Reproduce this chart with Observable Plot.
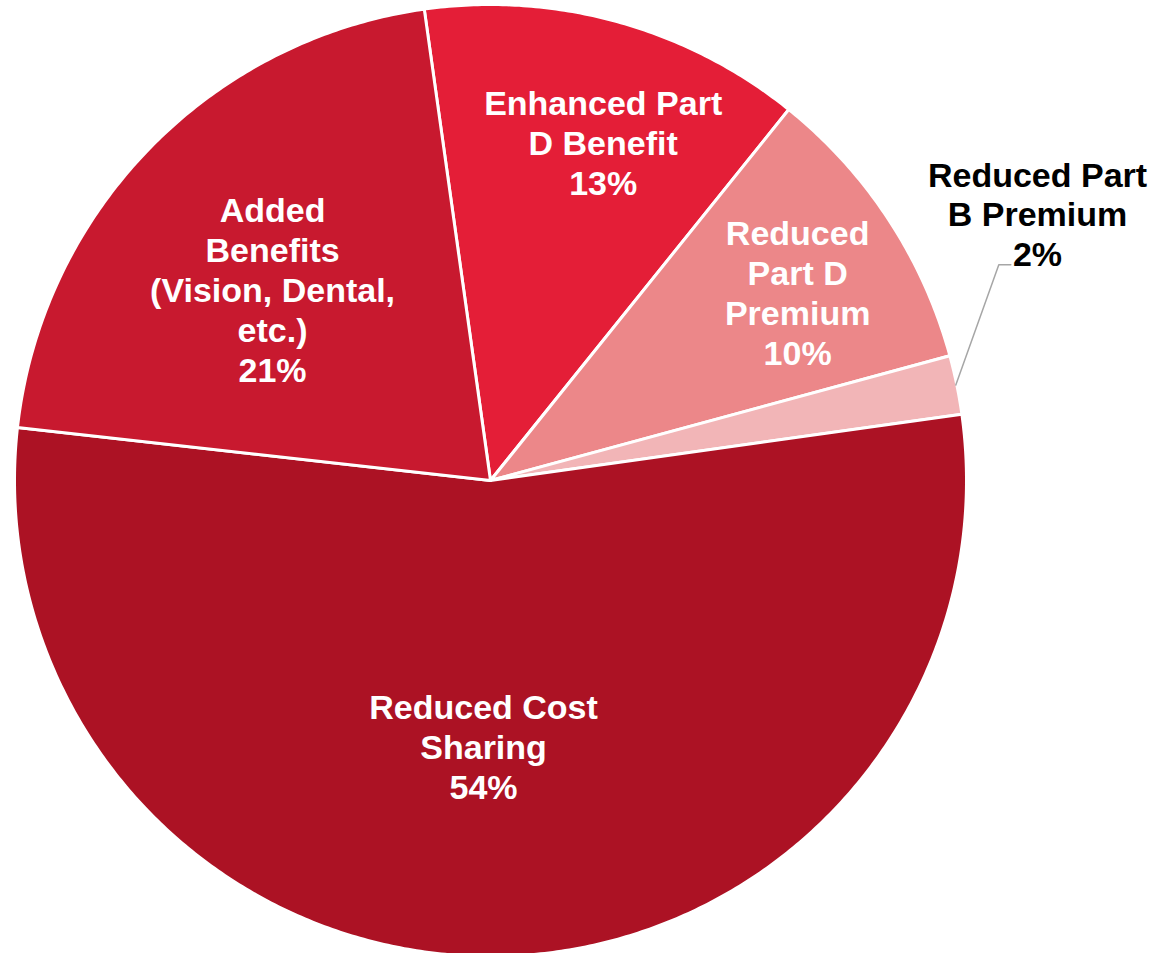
<!DOCTYPE html>
<html>
<head>
<meta charset="utf-8">
<script src="https://cdn.jsdelivr.net/npm/d3@7"></script>
<script src="https://cdn.jsdelivr.net/npm/@observablehq/plot@0.6"></script>
<style>
  html, body { margin: 0; padding: 0; background: #fff; }
  #chart svg { display: block; }
</style>
</head>
<body>
<div id="chart"></div>
<script>
// ---- data ----
const categories = [
  "Enhanced Part D Benefit",
  "Reduced Part D Premium",
  "Reduced Part B Premium",
  "Reduced Cost Sharing",
  "Added Benefits (Vision, Dental, etc.)"
];
const values = [13, 10, 2, 54, 21];
const labelTexts = [
  "Enhanced Part\nD Benefit",
  "Reduced\nPart D\nPremium",
  "Reduced Part\nB Premium",
  "Reduced Cost\nSharing",
  "Added\nBenefits\n(Vision, Dental,\netc.)"
];
const colors = ["#E41E37", "#EC8789", "#F2B5B7", "#AC1224", "#C8192F"];
const labelInside = [true, true, false, true, true];
// label placement (polar: degrees clockwise from top, fraction of radius)
const labelAngle = [18.4, 58.5, 64.0, 181.5, 311.3];
const labelRadius = [0.753, 0.760, 1.284, 0.560, 0.612];
const leaderBend = {angle: 67, radius: 1.165, tail: 12};

// ---- layout ----
const R = 476;
const startDeg = -8;
const rad = d => d * Math.PI / 180;
const polar = (a, r) => ({x: r * Math.sin(a), y: r * Math.cos(a)});

const arcs = d3.pie().sort(null)
  .startAngle(rad(startDeg))
  .endAngle(rad(startDeg) + 2 * Math.PI)(values);

const polys = [];
arcs.forEach((a, i) => {
  const cat = categories[i];
  polys.push({cat, x: 0, y: 0});
  const n = Math.max(2, Math.ceil((a.endAngle - a.startAngle) / rad(0.5)));
  for (let k = 0; k <= n; k++) {
    const t = a.startAngle + (a.endAngle - a.startAngle) * k / n;
    const p = polar(t, R);
    polys.push({cat, x: p.x, y: p.y});
  }
  polys.push({cat, x: 0, y: 0});
});

const labels = categories.map((c, i) => {
  const p = polar(rad(labelAngle[i]), labelRadius[i] * 474);
  return {cat: c, x: p.x, y: p.y, text: labelTexts[i] + "\n" + values[i] + "%", inside: labelInside[i]};
});

// leader line for the outside label
const leaderIdx = labelInside.indexOf(false);
const la = arcs[leaderIdx];
const p0 = polar((la.startAngle + la.endAngle) / 2, 475);
const p1 = polar(rad(leaderBend.angle), leaderBend.radius * 474);
const leader = [p0, p1, {x: p1.x + leaderBend.tail, y: p1.y}];

const font = "'Liberation Sans', Arial, Helvetica, sans-serif";

const chart = Plot.plot({
  width: 1155,
  height: 953,
  margin: 0,
  x: {domain: [-490, 665], axis: null},
  y: {domain: [-473, 480], axis: null},
  color: {domain: categories, range: colors},
  style: {background: "white"},
  marks: [
    Plot.line(polys, {x: "x", y: "y", z: "cat", fill: "cat", stroke: "white", strokeWidth: 3, strokeLinejoin: "round", curve: "linear"}),
    Plot.line(leader, {x: "x", y: "y", stroke: "#A6A6A6", strokeWidth: 1.5, curve: "linear"}),
    Plot.text(labels.filter(d => d.inside), {x: "x", y: "y", text: "text", fill: "white", fontSize: 34, fontWeight: "bold", fontFamily: font, lineHeight: 1.175, textAnchor: "middle"}),
    Plot.text(labels.filter(d => !d.inside), {x: "x", y: "y", text: "text", fill: "black", fontSize: 34, fontWeight: "bold", fontFamily: font, lineHeight: 1.175, textAnchor: "middle"})
  ]
});
document.getElementById("chart").appendChild(chart);
</script>
</body>
</html>
